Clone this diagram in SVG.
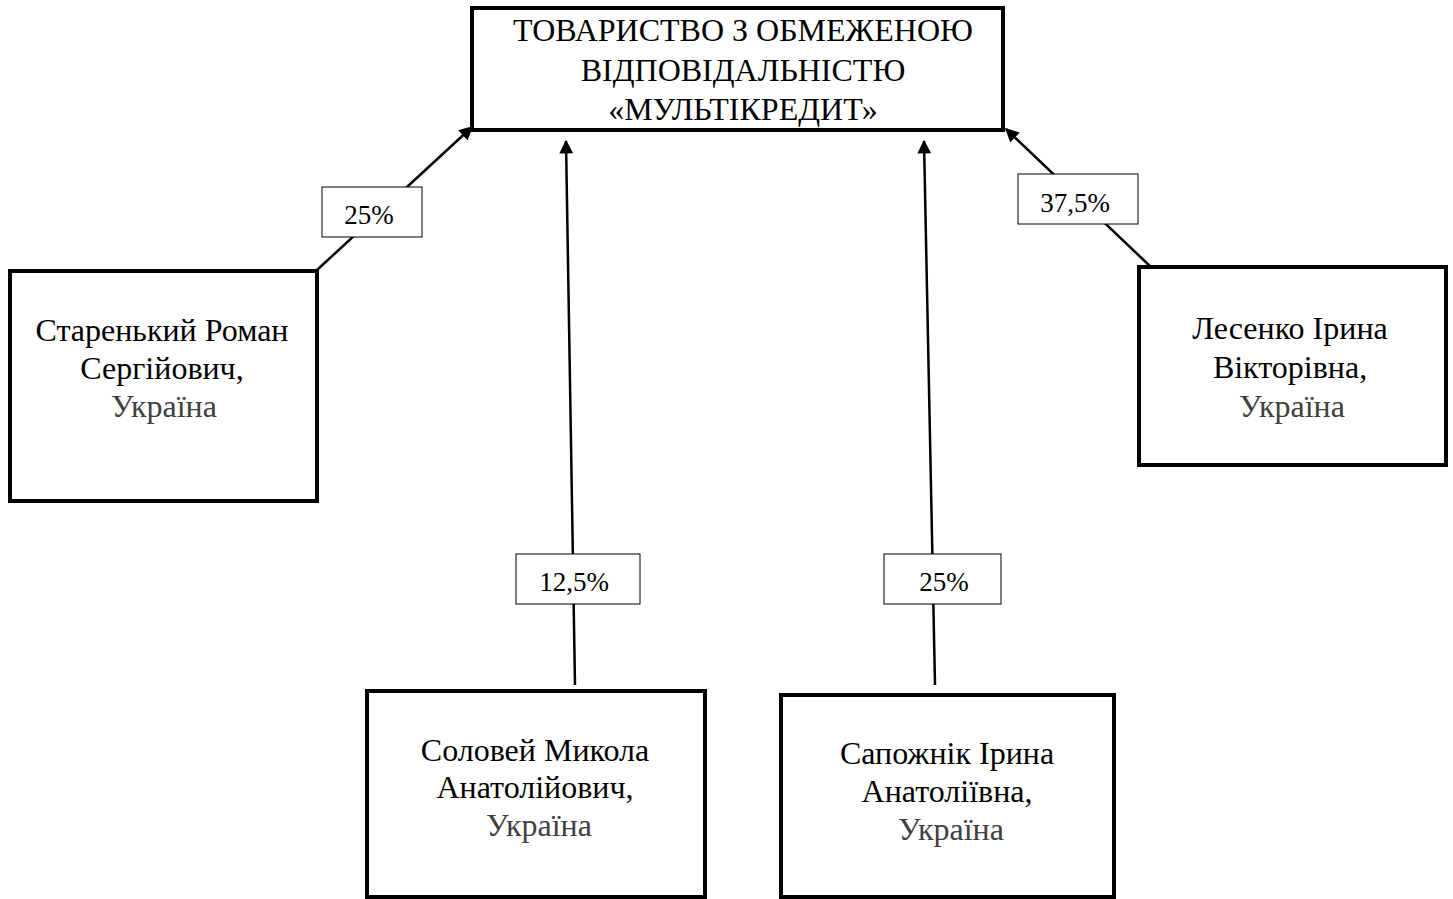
<svg xmlns="http://www.w3.org/2000/svg" width="1453" height="899" viewBox="0 0 1453 899">
<style>
.node{fill:#fff;stroke:#000;stroke-width:4}
.lbl{fill:#fff;stroke:#000;stroke-width:1}
.conn{stroke:#000;stroke-width:2.5;fill:none}
text{font-family:"Liberation Serif","Times New Roman",serif;text-anchor:middle;fill:#000}
.t{font-size:32px}
.top{font-size:32px}
.c{fill:#404040}
.p{font-size:27px}
</style>
<defs>
<marker id="ah" viewBox="0 0 10 10" refX="9" refY="5" markerWidth="6" markerHeight="5.5" orient="auto" markerUnits="strokeWidth">
<path d="M0,0 L10,5 L0,10 z" fill="#000"/>
</marker>
</defs>
<rect width="1453" height="899" fill="#fff"/>
<g id="connectors">
<line class="conn" x1="317" y1="270" x2="472" y2="127" marker-end="url(#ah)"/>
<line class="conn" x1="575" y1="685" x2="566" y2="141" marker-end="url(#ah)"/>
<line class="conn" x1="935" y1="685" x2="924" y2="141" marker-end="url(#ah)"/>
<line class="conn" x1="1152" y1="268" x2="1006" y2="129" marker-end="url(#ah)"/>
</g>
<g id="top">
<rect class="node" x="472" y="8" width="531" height="122"/>
<text class="top" x="743" y="41">ТОВАРИСТВО З ОБМЕЖЕНОЮ</text>
<text class="top" x="743" y="81">ВІДПОВІДАЛЬНІСТЮ</text>
<text class="top" x="743" y="120">«МУЛЬТІКРЕДИТ»</text>
</g>
<g id="n1">
<rect class="node" x="10" y="271" width="307" height="230"/>
<text class="t" x="162" y="341">Старенький Роман</text>
<text class="t" x="162" y="379">Сергійович,</text>
<text class="t c" x="164" y="417">Україна</text>
</g>
<g id="n2">
<rect class="node" x="1139" y="267" width="307" height="198"/>
<text class="t" x="1290" y="339">Лесенко Ірина</text>
<text class="t" x="1290" y="378">Вікторівна,</text>
<text class="t c" x="1292" y="417">Україна</text>
</g>
<g id="n3">
<rect class="node" x="367" y="691" width="338" height="206"/>
<text class="t" x="535" y="761">Соловей Микола</text>
<text class="t" x="535" y="798">Анатолійович,</text>
<text class="t c" x="539" y="836">Україна</text>
</g>
<g id="n4">
<rect class="node" x="781" y="695" width="333" height="202"/>
<text class="t" x="947" y="764">Сапожнік Ірина</text>
<text class="t" x="947" y="802">Анатоліївна,</text>
<text class="t c" x="951" y="840">Україна</text>
</g>
<g id="l1">
<rect class="lbl" x="322" y="187" width="100" height="50"/>
<text class="p" x="369" y="224">25%</text>
</g>
<g id="l2">
<rect class="lbl" x="1018" y="174" width="120" height="50"/>
<text class="p" x="1075" y="212">37,5%</text>
</g>
<g id="l3">
<rect class="lbl" x="516" y="554" width="124" height="50"/>
<text class="p" x="574" y="591">12,5%</text>
</g>
<g id="l4">
<rect class="lbl" x="884" y="554" width="117" height="50"/>
<text class="p" x="944" y="591">25%</text>
</g>
</svg>
